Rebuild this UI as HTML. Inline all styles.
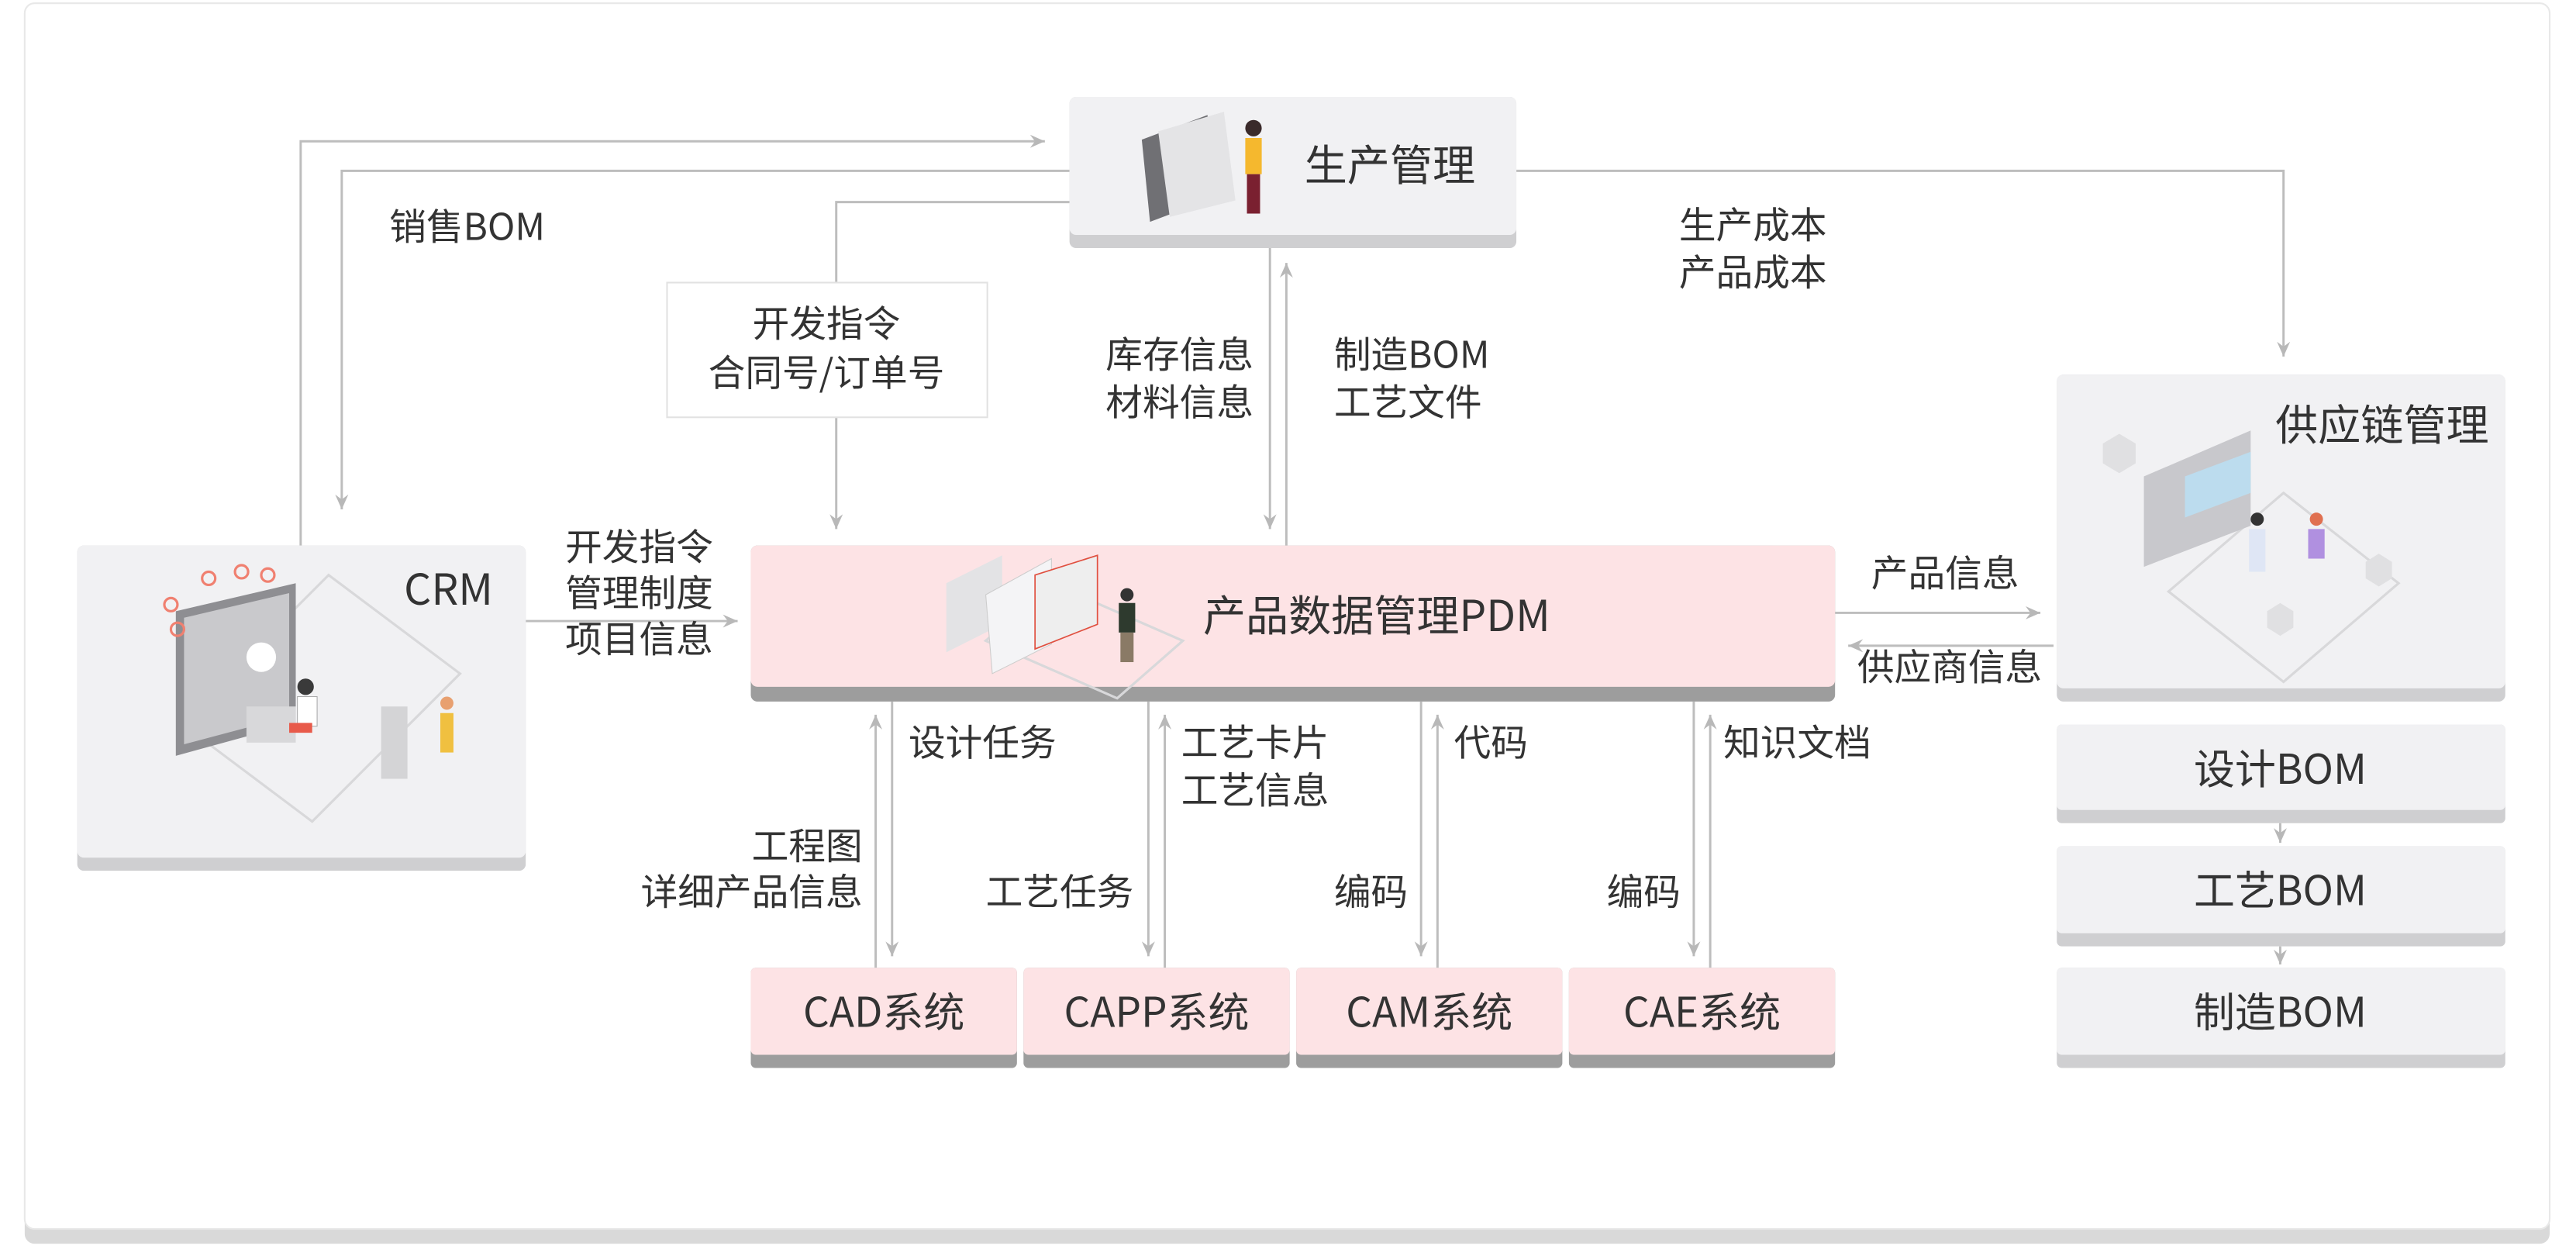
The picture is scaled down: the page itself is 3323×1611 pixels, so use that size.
<!DOCTYPE html>
<html><head><meta charset="utf-8"><style>
html,body{margin:0;padding:0;background:#fff;width:3323px;height:1611px;overflow:hidden}
svg{display:block}
text{font-family:"Noto Sans CJK SC","Liberation Sans",sans-serif;fill:#333}
</style></head><body>
<svg width="3323" height="1611" viewBox="0 0 1568 760.2" xmlns="http://www.w3.org/2000/svg">
<defs>
<marker id="a" markerWidth="10" markerHeight="10" refX="9" refY="5" orient="auto" markerUnits="userSpaceOnUse">
<path d="M0,1 L9,5 L0,9 L3,5 Z" fill="#b8b8b8"/></marker>
</defs>
<rect x="15" y="6" width="1537" height="751" rx="6" fill="#d9d9d9"/>
<rect x="15" y="2" width="1537" height="746" rx="6" fill="#fff" stroke="#e8e8e8" stroke-width="1"/>

<g fill="none" stroke="#bdbdbd" stroke-width="1.4">
<path d="M183,332 V86 H636" marker-end="url(#a)"/>
<path d="M651,104 H208 V310" marker-end="url(#a)"/>
<path d="M651,123 H509 V172"/>
<path d="M509,254 V322" marker-end="url(#a)"/>
<path d="M773,151 V322" marker-end="url(#a)"/>
<path d="M783,332 V160" marker-end="url(#a)"/>
<path d="M923,104 H1390 V217" marker-end="url(#a)"/>
<path d="M320,378 H449" marker-end="url(#a)"/>
<path d="M1117,373 H1242" marker-end="url(#a)"/>
<path d="M1250,393 H1125" marker-end="url(#a)"/>
<path d="M533,589 V435" marker-end="url(#a)"/>
<path d="M543,427 V582" marker-end="url(#a)"/>
<path d="M699,427 V582" marker-end="url(#a)"/>
<path d="M709,589 V435" marker-end="url(#a)"/>
<path d="M865,427 V582" marker-end="url(#a)"/>
<path d="M875,589 V435" marker-end="url(#a)"/>
<path d="M1031,427 V582" marker-end="url(#a)"/>
<path d="M1041,589 V435" marker-end="url(#a)"/>
<path d="M1388,501 V513" marker-end="url(#a)"/>
<path d="M1388,576 V587" marker-end="url(#a)"/>
</g>

<rect x="406" y="172" width="195" height="82" fill="#fff" stroke="#e2e2e2"/>

<g>
<rect x="651" y="59" width="272" height="92" rx="4" fill="#cfcfd1"/><rect x="651" y="59" width="272" height="84" rx="4" fill="#f1f1f3"/>
<rect x="47" y="332" width="273" height="198" rx="4" fill="#cfcfd1"/><rect x="47" y="332" width="273" height="190" rx="4" fill="#f1f1f3"/>
<rect x="1252" y="228" width="273" height="199" rx="4" fill="#cfcfd1"/><rect x="1252" y="228" width="273" height="191" rx="4" fill="#f1f1f3"/>
<rect x="1252" y="441" width="273" height="60" rx="3" fill="#cfcfd1"/><rect x="1252" y="441" width="273" height="52" rx="3" fill="#f1f1f3"/>
<rect x="1252" y="515" width="273" height="61" rx="3" fill="#cfcfd1"/><rect x="1252" y="515" width="273" height="53" rx="3" fill="#f1f1f3"/>
<rect x="1252" y="589" width="273" height="61" rx="3" fill="#cfcfd1"/><rect x="1252" y="589" width="273" height="53" rx="3" fill="#f1f1f3"/>
</g>
<g>
<rect x="457" y="332" width="660" height="95" rx="4" fill="#9d9d9d"/><rect x="457" y="332" width="660" height="86" rx="4" fill="#fde3e5"/>
<rect x="457" y="589" width="162" height="61" rx="3" fill="#9d9d9d"/><rect x="457" y="589" width="162" height="53" rx="3" fill="#fde3e5"/>
<rect x="623" y="589" width="162" height="61" rx="3" fill="#9d9d9d"/><rect x="623" y="589" width="162" height="53" rx="3" fill="#fde3e5"/>
<rect x="789" y="589" width="162" height="61" rx="3" fill="#9d9d9d"/><rect x="789" y="589" width="162" height="53" rx="3" fill="#fde3e5"/>
<rect x="955" y="589" width="162" height="61" rx="3" fill="#9d9d9d"/><rect x="955" y="589" width="162" height="53" rx="3" fill="#fde3e5"/>
</g>

<g stroke="#d8d8da" fill="none" stroke-width="1.5">
<path d="M110,440 L200,350 L280,410 L190,500 Z"/>
<path d="M1320,360 L1390,300 L1460,355 L1390,415 Z"/>
<path d="M600,390 L640,355 L720,390 L680,425 Z"/>
</g>
<g>
<path d="M107,372 L180,355 L180,440 L107,460 Z" fill="#8e8e92"/>
<path d="M112,376 L176,361 L176,436 L112,453 Z" fill="#c9c9cc"/>
<circle cx="159" cy="400" r="9" fill="#fff"/>
<rect x="150" y="430" width="30" height="22" fill="#d8d8da"/>
<circle cx="186" cy="418" r="5" fill="#3a3a3a"/>
<rect x="181" y="424" width="12" height="18" fill="#fff" stroke="#aaa" stroke-width=".5"/>
<rect x="176" y="440" width="14" height="6" fill="#e85a4a"/>
<rect x="232" y="430" width="16" height="44" fill="#d4d4d6"/>
<circle cx="272" cy="428" r="4" fill="#e8a070"/><rect x="268" y="434" width="8" height="24" fill="#f0c040"/>
<g fill="none" stroke="#f08070" stroke-width="1.5"><circle cx="127" cy="352" r="4"/><circle cx="147" cy="348" r="4"/><circle cx="163" cy="350" r="4"/><circle cx="104" cy="368" r="4"/><circle cx="108" cy="383" r="4"/></g>
<path d="M695,85 L735,70 L740,120 L700,135 Z" fill="#707074"/>
<path d="M705,80 L745,68 L752,122 L712,132 Z" fill="#e4e4e6"/>
<circle cx="763" cy="78" r="5" fill="#3a2a2a"/><rect x="758" y="84" width="10" height="22" fill="#f5b82e"/><rect x="759" y="106" width="8" height="24" fill="#7a2030"/>
<path d="M576,355 L610,338 L610,380 L576,397 Z" fill="#e3e3e5"/>
<path d="M600,362 L640,340 L640,392 L604,410 Z" fill="#f4f4f6" stroke="#ccc" stroke-width=".5"/>
<path d="M630,350 L668,338 L668,380 L630,395 Z" fill="#eee" stroke="#e05040" stroke-width=".8"/>
<circle cx="686" cy="362" r="4" fill="#333"/><rect x="681" y="367" width="10" height="18" fill="#2e3a2e"/><rect x="682" y="385" width="8" height="18" fill="#8a7a66"/>
<path d="M1305,290 L1370,262 L1370,320 L1305,345 Z" fill="#c8c8cc"/>
<path d="M1330,290 L1370,275 L1370,300 L1330,315 Z" fill="#bcdcee"/>
<path d="M1280,270 l10,-6 l10,6 v12 l-10,6 l-10,-6 Z" fill="#e0e0e2"/>
<path d="M1440,342 l8,-5 l8,5 v10 l-8,5 l-8,-5 Z" fill="#e0e0e2"/>
<path d="M1380,372 l8,-5 l8,5 v10 l-8,5 l-8,-5 Z" fill="#e0e0e2"/>
<circle cx="1374" cy="316" r="4" fill="#333"/><rect x="1369" y="322" width="10" height="26" fill="#dfe6f5"/>
<circle cx="1410" cy="316" r="4" fill="#e07050"/><rect x="1405" y="322" width="10" height="18" fill="#b090e0"/>
</g>

<text x="846" y="110" font-size="26" text-anchor="middle">生产管理</text>
<text x="273" y="368" font-size="26" text-anchor="middle">CRM</text>
<text x="1450" y="268" font-size="26" text-anchor="middle">供应链管理</text>
<text x="838" y="384" font-size="26" text-anchor="middle">产品数据管理PDM</text>
<g font-size="25" text-anchor="middle">
<text x="538" y="625">CAD系统</text>
<text x="704" y="625">CAPP系统</text>
<text x="870" y="625">CAM系统</text>
<text x="1036" y="625">CAE系统</text>
<text x="1388" y="477">设计BOM</text>
<text x="1388" y="551">工艺BOM</text>
<text x="1388" y="625">制造BOM</text>
</g>

<g font-size="22.5">
<text x="237" y="146">销售BOM</text>
<text x="503" y="205" text-anchor="middle">开发指令</text>
<text x="503" y="235" text-anchor="middle">合同号/订单号</text>
<text x="763" y="224" text-anchor="end">库存信息</text>
<text x="763" y="253" text-anchor="end">材料信息</text>
<text x="812" y="224">制造BOM</text>
<text x="812" y="253">工艺文件</text>
<text x="1022" y="145">生产成本</text>
<text x="1022" y="174">产品成本</text>
<text x="434" y="341" text-anchor="end">开发指令</text>
<text x="434" y="369" text-anchor="end">管理制度</text>
<text x="434" y="397" text-anchor="end">项目信息</text>
<text x="1139" y="357">产品信息</text>
<text x="1243" y="414" text-anchor="end">供应商信息</text>
<text x="553" y="460">设计任务</text>
<text x="719" y="460">工艺卡片</text>
<text x="719" y="489">工艺信息</text>
<text x="885" y="460">代码</text>
<text x="1049" y="460">知识文档</text>
<text x="525" y="523" text-anchor="end">工程图</text>
<text x="525" y="551" text-anchor="end">详细产品信息</text>
<text x="690" y="551" text-anchor="end">工艺任务</text>
<text x="857" y="551" text-anchor="end">编码</text>
<text x="1023" y="551" text-anchor="end">编码</text>
</g>
</svg>
</body></html>
